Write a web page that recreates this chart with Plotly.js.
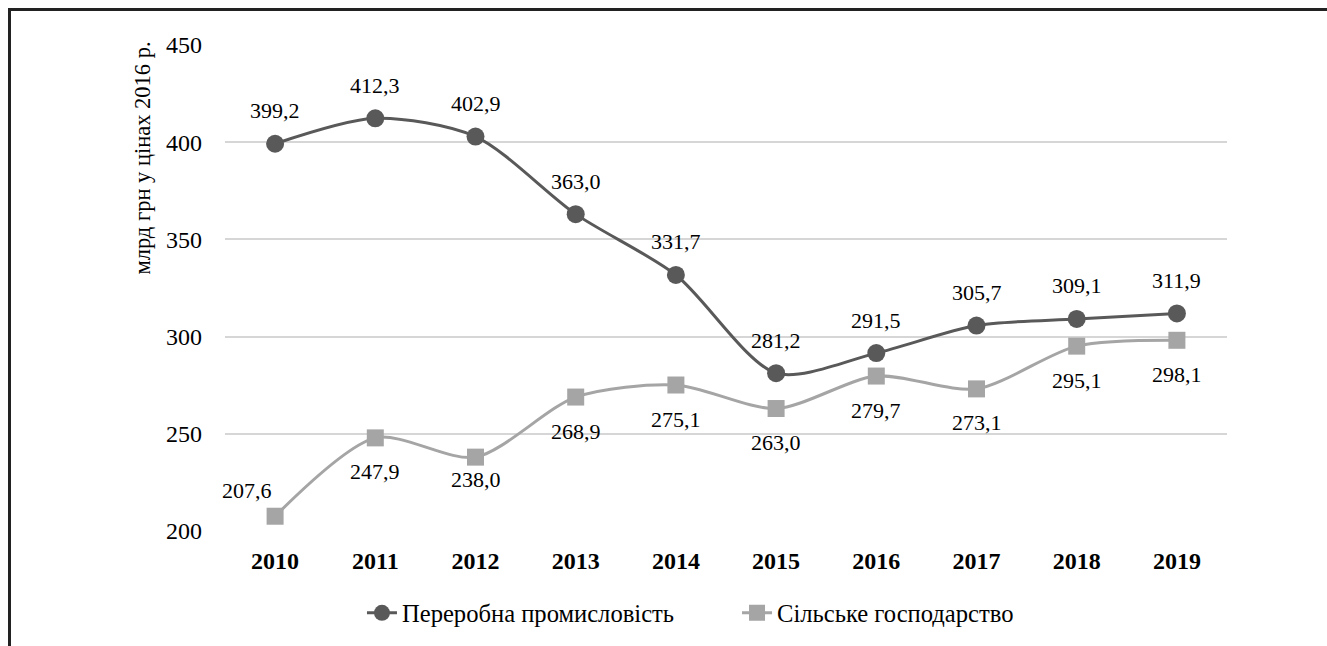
<!DOCTYPE html>
<html>
<head>
<meta charset="utf-8">
<script src="https://cdn.plot.ly/plotly-3.0.1.min.js"></script>
<style>
html,body{margin:0;padding:0;background:#fff;overflow:hidden;}
#frame{position:absolute;left:8px;top:8px;width:1400px;height:700px;border-left:3px solid #222;border-top:3px solid #222;box-sizing:border-box;}
#chart{position:absolute;left:0;top:0;width:1327px;height:646px;}
</style>
</head>
<body>
<div id="frame"></div>
<div id="chart"></div>
<script>
const years = [2010, 2011, 2012, 2013, 2014, 2015, 2016, 2017, 2018, 2019];
const yearLabels = ['2010','2011','2012','2013','2014','2015','2016','2017','2018','2019'];
const manufacturing = [399.2, 412.3, 402.9, 363.0, 331.7, 281.2, 291.5, 305.7, 309.1, 311.9];
const agriculture = [207.6, 247.9, 238.0, 268.9, 275.1, 263.0, 279.7, 273.1, 295.1, 298.1];
const seriesNames = ['Переробна промисловість', 'Сільське господарство'];
const yTitle = 'млрд грн у цінах 2016 р.';

const font = 'Liberation Serif';
const darkC = '#595959', lightC = '#a5a5a5';
const fmt = v => v.toFixed(1).replace('.', ',');

const traces = [
  {x: years, y: manufacturing, name: seriesNames[0], type: 'scatter', mode: 'lines+markers',
   legend: 'legend',
   line: {color: darkC, width: 3, shape: 'spline', smoothing: 0.8},
   marker: {symbol: 'circle', size: 18, color: darkC}},
  {x: years, y: agriculture, name: seriesNames[1], type: 'scatter', mode: 'lines+markers',
   legend: 'legend2',
   line: {color: lightC, width: 3, shape: 'spline', smoothing: 0.8},
   marker: {symbol: 'square', size: 17, color: lightC}}
];

const annotations = [];
years.forEach((yr, i) => {
  annotations.push({x: yr, y: manufacturing[i], text: fmt(manufacturing[i]), showarrow: false,
    yshift: 33, font: {family: font, size: 22, color: '#000'}});
  const first = i === 0;
  annotations.push({x: yr, y: agriculture[i], text: fmt(agriculture[i]), showarrow: false,
    yshift: first ? 26 : (i === 2 ? -22 : -34), xshift: first ? -28 : 0,
    font: {family: font, size: 22, color: '#000'}});
});
annotations.push({xref: 'paper', yref: 'paper', x: -0.082, y: 0.768, text: yTitle, textangle: -90,
  showarrow: false, xanchor: 'center', yanchor: 'middle', font: {family: font, size: 22.5, color: '#000'}});

const legendFont = {family: font, size: 24.6, color: '#000'};
const layout = {
  width: 1327, height: 646,
  margin: {l: 225, r: 100, t: 45, b: 114},
  paper_bgcolor: 'rgba(0,0,0,0)', plot_bgcolor: 'rgba(0,0,0,0)',
  showlegend: true,
  legend: {orientation: 'h', x: 0.1367, xanchor: 'left', y: -0.166, yanchor: 'middle', font: legendFont},
  legend2: {orientation: 'h', x: 0.511, xanchor: 'left', y: -0.166, yanchor: 'middle', font: legendFont},
  xaxis: {type: 'linear', range: [2009.5, 2019.5], tickvals: years, ticktext: yearLabels,
    showgrid: false, zeroline: false, showline: false, ticks: '',
    tickfont: {family: font, size: 24, color: '#000', weight: 'bold'}, ticklabelstandoff: 13},
  yaxis: {range: [200, 450], dtick: 50, tick0: 200, showgrid: true, gridcolor: '#d6d6d6', gridwidth: 2,
    zeroline: false, showline: false, ticks: '', ticklabelstandoff: 22,
    tickfont: {family: font, size: 24, color: '#000'}},
  annotations: annotations
};

Plotly.newPlot('chart', traces, layout, {displayModeBar: false, staticPlot: true});
</script>
</body>
</html>
